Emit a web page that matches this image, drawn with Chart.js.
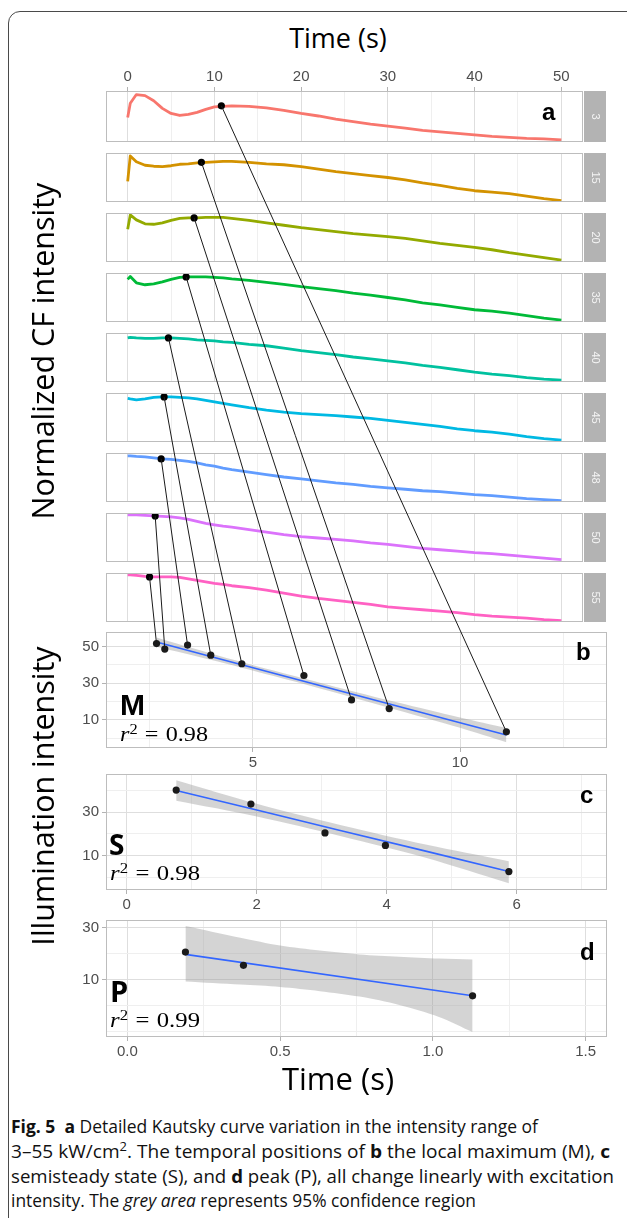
<!DOCTYPE html>
<html>
<head>
<meta charset="utf-8">
<title>Fig. 5 Kautsky curves</title>
<script src="https://cdn.jsdelivr.net/npm/chart.js@4.4.1/dist/chart.umd.min.js"></script>
<style>
  html, body { margin: 0; padding: 0; background: #fff; }
  body { position: relative; width: 627px; height: 1218px; overflow: hidden; }
  canvas { position: absolute; }
  .txt { position: absolute; white-space: nowrap; color: #000; }
  .txt sup { font-size: 0.68em; line-height: 0; vertical-align: baseline; position: relative; top: -0.55em; }
  #frame { position: absolute; left: 8px; top: 11px; width: 700px; height: 1300px; box-sizing: border-box;
           border: 1.5px solid #4a4a4a; border-top-left-radius: 12px; }
</style>
</head>
<body>
<div id="frame"></div>
<script>
// ---- values ----
// panel a: normalized CF curves (0 = bottom of facet, 1 = top), sampled on timeGrid (s)
const timeGrid = [0, 0.3, 1, 2, 3, 4, 5, 6, 7, 8, 9, 10, 11, 12, 14, 16, 18, 20, 22, 24, 26, 28, 30, 32, 34, 36, 38, 40, 42, 44, 46, 48, 50];
const facetLabels = ['3', '15', '20', '35', '40', '45', '48', '50', '55'];
const facetColors = ['#F8766D', '#D39200', '#93AA00', '#00BA38', '#00C19F', '#00B9E3', '#619CFF', '#DB72FB', '#FF61C3'];

const cf3  = [0.48, 0.76, 0.93, 0.91, 0.81, 0.66, 0.56, 0.52, 0.54, 0.58, 0.64, 0.69, 0.70, 0.71, 0.70, 0.67, 0.62, 0.56, 0.51, 0.45, 0.40, 0.35, 0.31, 0.27, 0.23, 0.20, 0.17, 0.14, 0.11, 0.09, 0.07, 0.06, 0.04];
const cf15 = [0.42, 0.94, 0.82, 0.75, 0.73, 0.72, 0.74, 0.77, 0.78, 0.80, 0.81, 0.82, 0.83, 0.83, 0.81, 0.78, 0.76, 0.72, 0.67, 0.62, 0.58, 0.54, 0.50, 0.45, 0.39, 0.34, 0.28, 0.23, 0.20, 0.17, 0.12, 0.07, 0.03];
const cf20 = [0.67, 0.96, 0.86, 0.78, 0.77, 0.80, 0.85, 0.89, 0.90, 0.90, 0.91, 0.91, 0.91, 0.89, 0.85, 0.80, 0.75, 0.70, 0.66, 0.62, 0.58, 0.55, 0.52, 0.48, 0.43, 0.38, 0.34, 0.30, 0.25, 0.19, 0.14, 0.09, 0.04];
const cf35 = [0.87, 0.93, 0.80, 0.76, 0.78, 0.82, 0.87, 0.91, 0.92, 0.92, 0.92, 0.91, 0.90, 0.88, 0.85, 0.81, 0.77, 0.72, 0.68, 0.64, 0.59, 0.55, 0.50, 0.45, 0.39, 0.35, 0.30, 0.25, 0.22, 0.18, 0.13, 0.08, 0.04];
const cf40 = [0.90, 0.91, 0.90, 0.89, 0.89, 0.90, 0.90, 0.89, 0.88, 0.86, 0.85, 0.84, 0.82, 0.81, 0.77, 0.74, 0.69, 0.64, 0.60, 0.56, 0.51, 0.47, 0.43, 0.39, 0.34, 0.30, 0.25, 0.20, 0.16, 0.13, 0.09, 0.06, 0.04];
const cf45 = [0.89, 0.88, 0.86, 0.88, 0.91, 0.92, 0.92, 0.91, 0.90, 0.88, 0.85, 0.82, 0.79, 0.76, 0.70, 0.65, 0.61, 0.58, 0.56, 0.54, 0.51, 0.48, 0.44, 0.40, 0.36, 0.32, 0.27, 0.23, 0.20, 0.16, 0.11, 0.07, 0.04];
const cf48 = [0.94, 0.94, 0.93, 0.92, 0.90, 0.88, 0.87, 0.85, 0.83, 0.80, 0.76, 0.73, 0.69, 0.66, 0.61, 0.56, 0.51, 0.47, 0.43, 0.39, 0.36, 0.32, 0.29, 0.26, 0.23, 0.21, 0.18, 0.15, 0.13, 0.10, 0.07, 0.05, 0.03];
const cf50 = [0.96, 0.96, 0.96, 0.95, 0.94, 0.93, 0.92, 0.90, 0.87, 0.83, 0.79, 0.76, 0.73, 0.71, 0.66, 0.61, 0.56, 0.52, 0.49, 0.46, 0.43, 0.39, 0.36, 0.32, 0.28, 0.25, 0.22, 0.19, 0.17, 0.14, 0.11, 0.08, 0.05];
const cf55 = [0.96, 0.96, 0.95, 0.93, 0.92, 0.92, 0.92, 0.91, 0.88, 0.85, 0.82, 0.79, 0.77, 0.74, 0.70, 0.65, 0.59, 0.53, 0.48, 0.44, 0.40, 0.36, 0.31, 0.28, 0.25, 0.22, 0.19, 0.15, 0.12, 0.10, 0.08, 0.05, 0.03];
const cfCurves = [cf3, cf15, cf20, cf35, cf40, cf45, cf48, cf50, cf55];

// black dots on the curves in a
const maxTime  = [10.8, 8.5, 7.66, 6.74, 4.7, 4.2, 3.86, 3.17, 2.52];
const maxLevel = [0.71, 0.81, 0.90, 0.92, 0.90, 0.92, 0.88, 0.94, 0.92];

// b: local maximum (M), same order as the facets
const mTime      = [11.12, 8.29, 7.38, 6.23, 4.73, 3.98, 3.42, 2.87, 2.67];
const mIntensity = [3.5, 16.2, 20.9, 34.2, 40.6, 45.3, 50.8, 48.6, 51.6];
const mFitX  = [2.67, 4.0, 5.5, 7.0, 8.5, 10.0, 11.12];
const mFitY  = [52.4, 44.4, 35.4, 26.4, 17.4, 8.5, 1.8];
const mUpper = [54.9, 46.1, 36.9, 28.0, 19.5, 11.3, 5.6];
const mLower = [49.9, 42.7, 33.9, 24.8, 15.3, 5.7, -2.2];

// c: semisteady state (S)
const sTime      = [0.76, 1.91, 3.05, 3.98, 5.88];
const sIntensity = [40.0, 33.6, 20.5, 14.8, 2.9];
const sFitX  = [0.76, 2.0, 3.3, 4.6, 5.88];
const sFitY  = [39.8, 30.9, 21.5, 12.2, 2.9];
const sUpper = [44.5, 33.8, 24.0, 15.2, 7.6];
const sLower = [35.1, 28.0, 19.0, 9.2, -2.4];

// d: peak (P)
const pTime      = [0.19, 0.38, 1.13];
const pIntensity = [20.6, 15.5, 3.8];
const pFitX  = [0.19, 1.13];
const pFitY  = [19.7, 3.8];
const pBandX = [0.19, 0.37, 0.50, 0.63, 0.76, 0.89, 1.02, 1.13];
const pUpper = [30.6, 26.1, 23.1, 21.2, 19.7, 18.8, 18.1, 17.7];
const pLower = [9.3, 8.1, 7.2, 5.6, 3.5, 0.3, -4.3, -10.1];

// tick labels
const timeTicks = [0, 10, 20, 30, 40, 50];
const mTicks = [5, 10];
const sTicks = [0, 2, 4, 6];
const pTicks = [0, 0.5, 1.0, 1.5];
const intensityTicks = [10, 30, 50];

// ---- helpers ----
const MAJOR = '#DEDEDE', MINOR = '#EFEFEF';
const TICK_FONT = { family: 'Liberation Sans', size: 15 };
const onList = (list, v) => list.some(t => Math.abs(t - v) < 1e-6);
const pairs = (xs, ys) => xs.map((x, i) => ({ x, y: ys[i] }));

function addCanvas(left, top, w, h) {
  const c = document.createElement('canvas');
  c.width = w; c.height = h;
  c.style.left = left + 'px'; c.style.top = top + 'px';
  c.style.width = w + 'px'; c.style.height = h + 'px';
  document.body.appendChild(c);
  return c;
}

function stepTicks(step) {
  return scale => {
    const out = [];
    for (let v = Math.ceil(scale.min / step - 1e-9) * step; v <= scale.max + 1e-9; v += step) {
      out.push({ value: Math.round(v * 1000) / 1000 });
    }
    scale.ticks = out;
  };
}

function gridStyle(labelled, marks) {
  const major = c => c.tick && onList(labelled, c.tick.value);
  return {
    color: c => major(c) ? MAJOR : MINOR,
    lineWidth: 1,
    drawTicks: marks,
    tickLength: 4,
    tickColor: c => major(c) ? '#B3B3B3' : 'rgba(0,0,0,0)'
  };
}

function xAxis(min, max, step, labelled, fmt, showLabels, position) {
  return {
    type: 'linear', position, min, max,
    afterBuildTicks: stepTicks(step),
    afterFit: s => { s.height = showLabels ? 30 : 0; },
    border: { display: false },
    grid: gridStyle(labelled, showLabels),
    ticks: {
      display: showLabels, autoSkip: false, maxRotation: 0, minRotation: 0,
      padding: position === 'top' ? 1 : 2, color: '#4D4D4D', font: TICK_FONT,
      callback: v => onList(labelled, v) ? fmt(v) : ''
    }
  };
}

function yAxis(min, max) {
  return {
    type: 'linear', position: 'left', min, max,
    afterBuildTicks: stepTicks(10),
    afterFit: s => { s.width = 46; },
    border: { display: false },
    grid: gridStyle(intensityTicks, true),
    ticks: {
      autoSkip: false, padding: 3, color: '#4D4D4D', font: TICK_FONT,
      callback: v => onList(intensityTicks, v) ? String(v) : ''
    }
  };
}

// panel border plus the grey facet strip on the right
function panelFrame(strip) {
  return {
    id: 'panelFrame',
    afterDraw(chart) {
      const { ctx, chartArea: a } = chart;
      ctx.save();
      if (strip) {
        ctx.fillStyle = '#B3B3B3';
        ctx.fillRect(a.right + 1, a.top, 22, a.bottom - a.top);
        ctx.translate(a.right + 12, (a.top + a.bottom) / 2);
        ctx.rotate(Math.PI / 2);
        ctx.fillStyle = '#F4F4F4';
        ctx.font = '11px "Liberation Sans"';
        ctx.textAlign = 'center';
        ctx.textBaseline = 'middle';
        ctx.fillText(strip, 0, 0);
      }
      ctx.restore();
      ctx.save();
      ctx.strokeStyle = '#BDBDBD';
      ctx.lineWidth = 1;
      ctx.strokeRect(a.left + 0.5, a.top + 0.5, a.right - a.left - 1, a.bottom - a.top - 1);
      ctx.restore();
    }
  };
}

function baseOptions(padding, scales) {
  return {
    responsive: false, animation: false, devicePixelRatio: 1, events: [],
    layout: { padding },
    plugins: { legend: { display: false }, tooltip: { enabled: false } },
    scales
  };
}

// ---- panel a: nine facets ----
const facetCharts = cfCurves.map((curve, k) => {
  const first = k === 0;
  const top = 91 + 60 * k;
  const padT = first ? 30 : 2;
  const cv = addCanvas(60, top - padT, 549, padT + 55);
  const chart = new Chart(cv, {
    type: 'line',
    data: {
      datasets: [
        { data: [{ x: maxTime[k], y: maxLevel[k] }], showLine: false, pointRadius: 3.6,
          pointBackgroundColor: '#000', pointBorderWidth: 0 },
        { data: pairs(timeGrid, curve), borderColor: facetColors[k], borderWidth: 2.8,
          pointRadius: 0, borderJoinStyle: 'round' }
      ]
    },
    options: baseOptions({ left: 46, right: 26, top: first ? 0 : 2, bottom: first ? 2 : 0 }, {
      x: xAxis(-2.5, 52.5, 5, timeTicks, String, first, first ? 'top' : 'bottom'),
      y: { display: false, min: 0, max: 1 }
    }),
    plugins: [panelFrame(facetLabels[k])]
  });
  return { chart, left: 60, top: top - padT };
});

// ---- panels b, c, d: regressions ----
function regressionPanel(top, height, xRange, xStep, xLabels, xFmt, yRange, px, py, fx, fy, bx, bu, bl) {
  const cv = addCanvas(60, top - 14, 559, height + 44);
  const chart = new Chart(cv, {
    type: 'line',
    data: {
      datasets: [
        { data: pairs(px, py), showLine: false, pointRadius: 3.6,
          pointBackgroundColor: '#1A1A1A', pointBorderWidth: 0 },
        { data: pairs(fx, fy), borderColor: '#3366FF', borderWidth: 1.6, pointRadius: 0 },
        { data: pairs(bx, bu), borderColor: 'rgba(0,0,0,0)', borderWidth: 0, pointRadius: 0,
          tension: 0.3, fill: '+1', backgroundColor: 'rgba(153,153,153,0.42)' },
        { data: pairs(bx, bl), borderColor: 'rgba(0,0,0,0)', borderWidth: 0, pointRadius: 0,
          tension: 0.3, fill: false }
      ]
    },
    options: baseOptions({ left: 0, right: 12, top: 14, bottom: 0 }, {
      x: xAxis(xRange[0], xRange[1], xStep, xLabels, xFmt, true, 'bottom'),
      y: yAxis(yRange[0], yRange[1])
    }),
    plugins: [panelFrame(null)]
  });
  return { chart, left: 60, top: top - 14 };
}

const mChart = regressionPanel(632, 116, [1.45, 13.55], 2.5, mTicks, String, [-5.3, 57.9],
  mTime, mIntensity, mFitX, mFitY, mFitX, mUpper, mLower);
regressionPanel(774, 116, [-0.32, 7.39], 1, sTicks, String, [-5.5, 47.3],
  sTime, sIntensity, sFitX, sFitY, sFitX, sUpper, sLower);
regressionPanel(920, 117, [-0.07, 1.57], 0.25, pTicks, v => v.toFixed(1), [-12.0, 32.9],
  pTime, pIntensity, pFitX, pFitY, pBandX, pUpper, pLower);

// ---- text ----
const METRICS = { 'Open Sans': [1.069, 0.293], 'Liberation Sans': [0.905, 0.212], 'Liberation Serif': [0.891, 0.216] };

function putText(html, x, baseline, family, size, extra = {}) {
  const el = document.createElement('div');
  el.className = 'txt';
  el.innerHTML = html;
  el.style.fontFamily = `"${family}"`;
  el.style.fontSize = size + 'px';
  el.style.lineHeight = size + 'px';
  if (extra.weight) el.style.fontWeight = extra.weight;
  if (extra.color) el.style.color = extra.color;
  document.body.appendChild(el);
  const [asc, desc] = METRICS[family];
  if (extra.rotate) {
    // x = baseline of the rotated run, baseline = its vertical centre
    el.style.left = (x - size * (asc - desc) / 2) + 'px';
    el.style.top = baseline + 'px';
    el.style.transform = 'translate(-50%, -50%) rotate(-90deg)';
  } else {
    el.style.left = x + 'px';
    el.style.top = (baseline - size * (0.5 + (asc - desc) / 2)) + 'px';
    if (extra.center) el.style.transform = 'translateX(-50%)';
  }
  if (extra.width) {
    const w = el.getBoundingClientRect().width;
    el.style.transformOrigin = '0 0';
    el.style.transform = `scaleX(${extra.width / w})`;
  }
  return el;
}

putText('Time (s)', 338, 48, 'Open Sans', 27, { center: true });
putText('Time (s)', 338, 1091, 'Open Sans', 31, { center: true });
putText('Normalized CF intensity', 54, 351, 'Open Sans', 30.5, { rotate: true });
putText('Illumination intensity', 54, 796, 'Open Sans', 30.5, { rotate: true });

putText('a', 542, 120, 'Liberation Sans', 24, { weight: 'bold' });
putText('b', 576, 660, 'Liberation Sans', 24, { weight: 'bold' });
putText('c', 580, 803, 'Liberation Sans', 24, { weight: 'bold' });
putText('d', 580, 960, 'Liberation Sans', 24, { weight: 'bold' });

putText('M', 120, 715, 'Liberation Sans', 30, { weight: 'bold' });
putText('S', 109, 855, 'Open Sans', 28, { weight: 'bold' });
putText('P', 110, 1002, 'Open Sans', 29, { weight: 'bold' });

const rSquared = v => `<i>r</i><sup>2</sup><span style="margin:0 0.3em">=</span>${v}`;
putText(rSquared('0.98'), 120, 742, 'Liberation Serif', 21, { width: 88 });
putText(rSquared('0.98'), 110, 881, 'Liberation Serif', 21, { width: 90 });
putText(rSquared('0.99'), 110, 1028, 'Liberation Serif', 21, { width: 90 });

// caption: each line squeezed to the width it has in the figure
const captionLines = [
  '<b>Fig. 5</b>&nbsp; <b>a</b> Detailed Kautsky curve variation in the intensity range of',
  '3–55 kW/cm<sup>2</sup>. The temporal positions of <b>b</b> the local maximum (M), <b>c</b>',
  'semisteady state (S), and <b>d</b> peak (P), all change linearly with excitation',
  'intensity. The <i>grey area</i> represents 95% confidence region'
];
const captionBase = [1133, 1158, 1183, 1207];
const captionWidth = [527, 599, 603, 465];
captionLines.forEach((h, i) => putText(h, 11, captionBase[i], 'Open Sans', 18.5, { color: '#111', width: captionWidth[i] }));

// ---- connectors from the dots in a to the points in b ----
const links = addCanvas(0, 0, 627, 1218);
links.style.pointerEvents = 'none';
const lctx = links.getContext('2d');
lctx.strokeStyle = '#1A1A1A';
lctx.lineWidth = 1;
facetCharts.forEach((fc, k) => {
  const x1 = fc.left + fc.chart.scales.x.getPixelForValue(maxTime[k]);
  const y1 = fc.top + fc.chart.scales.y.getPixelForValue(maxLevel[k]);
  const x2 = mChart.left + mChart.chart.scales.x.getPixelForValue(mTime[k]);
  const y2 = mChart.top + mChart.chart.scales.y.getPixelForValue(mIntensity[k]);
  lctx.beginPath();
  lctx.moveTo(x1, y1);
  lctx.lineTo(x2, y2);
  lctx.stroke();
});
</script>
</body>
</html>
